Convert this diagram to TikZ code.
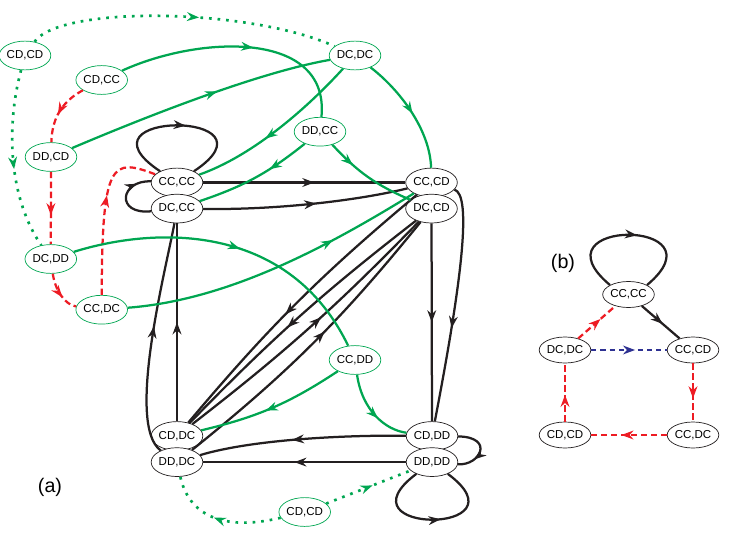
\documentclass[tikz,border=0pt]{standalone}
\usepackage{fontspec}
\setmainfont{Liberation Sans}
\usetikzlibrary{arrows.meta,positioning,shapes.geometric,decorations.markings}
\definecolor{EdgeGreen}{HTML}{00A651}
\definecolor{EdgeRed}{HTML}{ED1C24}
\definecolor{EdgeBlue}{HTML}{2E3192}
\definecolor{Ink}{HTML}{231F20}

\begin{document}
\begin{tikzpicture}[x=0.025cm,y=-0.025cm,
  state/.style={ellipse,draw=Ink,line width=0.5pt,fill=white,minimum width=1.02cm,minimum height=0.72cm,inner sep=0pt,font=\fontsize{8.2}{9}\selectfont},
  trans/.style={state,draw=EdgeGreen},
  small/.style={state,minimum width=1.05cm,minimum height=0.65cm},
  blk/.style={color=Ink,line width=1.6pt},
  grn/.style={color=EdgeGreen,line width=1.6pt},
  reddash/.style={color=EdgeRed,line width=1.6pt,dash pattern=on 4.5pt off 2.6pt},
  bluedash/.style={color=EdgeBlue,line width=1.6pt,dash pattern=on 3.6pt off 3pt},
  grndot/.style={color=EdgeGreen,line width=1.9pt,dash pattern=on 1.9pt off 4.2pt},
  midarr/.style={postaction={decorate},decoration={markings,mark=at position #1 with {\arrow{Stealth[length=3mm,width=2.2mm]}}}},
  midarr/.default=0.55,
  lbl/.style={font=\fontsize{14}{16}\selectfont}
]
\useasboundingbox (0,0) rectangle (747,538);

% panel (a): recurrent states
\node[state] (cccc) at (177,182.5) {CC,CC};
\node[state,below=-0.085cm of cccc] (dccc) {DC,CC};
\node[state] (cccd) at (431.5,182.5) {CC,CD};
\node[state,below=-0.085cm of cccd] (dccd) {DC,CD};
\node[state] (cddc) at (177,436) {CD,DC};
\node[state,below=-0.085cm of cddc] (dddc) {DD,DC};
\node[state] (cddd) at (432,436) {CD,DD};
\node[state,below=-0.085cm of cddd] (dddd) {DD,DD};
% panel (a): transient states
\node[trans] (cdcd) at (25,55.5) {CD,CD};
\node[trans] (cdcc) at (101.7,80) {CD,CC};
\node[trans] (ddcd) at (51,157) {DD,CD};
\node[trans] (dcdd) at (50.8,259) {DC,DD};
\node[trans] (ccdc) at (101.7,309.7) {CC,DC};
\node[trans] (dcdc) at (355,55.5) {DC,DC};
\node[trans] (ddcc) at (320,131.7) {DD,CC};
\node[trans] (ccdd) at (355,360) {CC,DD};
\node[trans] (cdcdb) at (304.7,512) {CD,CD};
\node[lbl] (labela) at (50,487) {(a)};

% panel (b)
\node[small] (bcccc) at (628.5,294.5) {CC,CC};
\node[small] (bdcdc) at (565,350) {DC,DC};
\node[small] (bcccd) at (693,350) {CC,CD};
\node[small] (bcdcd) at (565,435) {CD,CD};
\node[small] (bccdc) at (693,435) {CC,DC};
\node[lbl] (labelb) at (563,263) {(b)};

% black moves
\draw[blk,midarr] (cccc) .. controls (68,110) and (286,110) .. (cccc);
\draw[blk,midarr=0.78] (dccc) .. controls (115,215) and (120,180) .. (cccc);
\draw[blk,midarr] (cccc) -- (cccd);
\draw[blk,midarr] (dccc) .. controls (280,210) and (360,200) .. (cccd);
\draw[blk,midarr=0.5] (cddc) -- (dccc);
\draw[blk,midarr] (dddc) .. controls (125,425) and (167,265) .. (dccc);
\draw[blk,midarr] (cccd) to[bend right=5] (cddc);
\draw[blk,midarr] (dccd) to[bend right=4] (cddc);
\draw[blk,midarr] (cddc) to[bend right=4] (dccd);
\draw[blk,midarr] (dddc) to[bend right=6] (dccd);
\draw[blk,midarr=0.5] (dccd) -- (cddd);
\draw[blk,midarr=0.6] (cccd) .. controls (472,195) and (462,280) .. (cddd);
\draw[blk,midarr] (cddd) .. controls (340,435) and (250,440) .. (dddc);
\draw[blk,midarr] (dddd) -- (dddc);
\draw[blk,midarr=0.7] (cddd) .. controls (495,437) and (480,466) .. (dddd);
\draw[blk,midarr] (dddd) .. controls (335,535) and (530,535) .. (dddd);

% red dashed moves
\draw[reddash,midarr] (cdcc) .. controls (65,100) and (52,115) .. (ddcd);
\draw[reddash,midarr=0.6] (ddcd) -- (dcdd);
\draw[reddash,midarr=0.6] (dcdd) .. controls (55,290) and (65,305) .. (ccdc);
\draw[reddash,midarr=0.6] (ccdc) .. controls (102,160) and (112,158) .. (cccc);

% green moves
\draw[grn,midarr] (cdcc) .. controls (200,35) and (330,30) .. (ddcc);
\draw[grn,midarr=0.57] (ddcd) .. controls (150,115) and (260,72) .. (dcdc);
\draw[grn,midarr=0.58] (dcdc) .. controls (310,105) and (255,155) .. (cccc);
\draw[grn,midarr=0.36] (ddcc) to[bend left=10] (dccc);
\draw[grn,midarr=0.3] (ddcc) to[bend right=12] (dccd);
\draw[grn,midarr=0.7] (ccdc) .. controls (230,300) and (330,245) .. (cccd);
\draw[grn,midarr=0.53] (dcdd) .. controls (160,225) and (290,225) .. (ccdd);
\draw[grn,midarr] (ccdd) to[bend left=10] (cddc);
\draw[grn,midarr=0.6] (ccdd) .. controls (362,410) and (385,430) .. (cddd);
\draw[grn,midarr=0.52] (dcdc) .. controls (400,90) and (430,130) .. (cccd);

% dotted moves
\draw[grndot,midarr] (cdcd) .. controls (60,5) and (250,8) .. (dcdc);
\draw[grndot,midarr] (cdcd) .. controls (5,130) and (10,200) .. (dcdd);
\draw[grndot,midarr] (cdcdb) .. controls (230,530) and (190,520) .. (dddc);
\draw[grndot,midarr] (cdcdb) -- (dddd);

% panel (b) moves
\draw[blk,midarr] (bcccc.north west) .. controls (530,218) and (727,218) .. (bcccc.north east);
\draw[blk,midarr] (bcccc) -- (bcccd);
\draw[reddash,midarr=0.6] (bdcdc) -- (bcccc);
\draw[bluedash,midarr=0.58] (bdcdc) -- (bcccd);
\draw[reddash,midarr=0.6] (bcccd) -- (bccdc);
\draw[reddash,midarr=0.6] (bccdc) -- (bcdcd);
\draw[reddash,midarr=0.46] (bcdcd) -- (bdcdc);
\end{tikzpicture}
\end{document}
